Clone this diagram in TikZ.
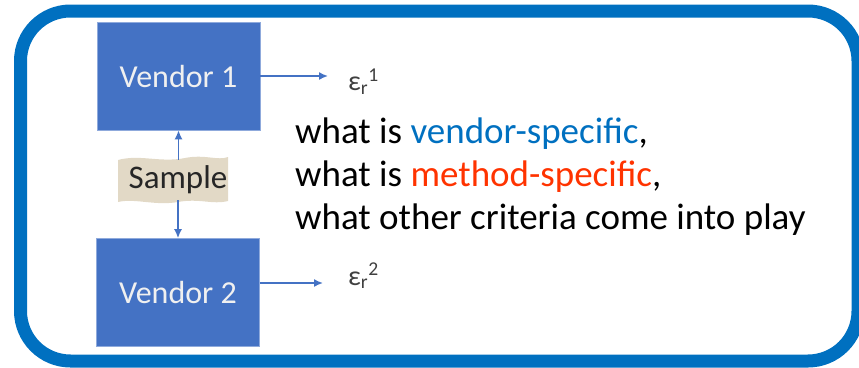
\documentclass[tikz,border=0pt]{standalone}
\usepackage{fontspec}
\setmainfont{Carlito}
\usetikzlibrary{arrows.meta}
\begin{document}
\begin{tikzpicture}[x=1pt,y=-1pt,
  vbox/.style={fill=vblue,draw=vblue!60!white,line width=0.6pt,minimum width=163pt,minimum height=108pt,text=white!94!black,font=\fontsize{32}{36}\selectfont,inner sep=0pt},
  conn/.style={draw=vblue,line width=1.6pt,-{Latex[length=9pt,width=8pt]}},
  eps/.style={text=black!75,font=\fontsize{28}{30}\selectfont,inner sep=0pt,anchor=west},
  body/.style={font=\fontsize{37}{43}\selectfont,anchor=base west,inner sep=0pt}
]
\definecolor{vblue}{HTML}{4472C4}
\definecolor{frame}{HTML}{0070C0}
\definecolor{mred}{HTML}{FF3300}
\definecolor{sampfill}{HTML}{E2D9C6}
\useasboundingbox (0,0) rectangle (859,367);
\draw[frame,line width=13pt,rounded corners=50pt] (20.5,11) rectangle (858,361);
\node[vbox] (v1) at (178.5,76) {Vendor 1};
\node[vbox] (v2) at (178,292.5) {Vendor 2};
\fill[sampfill] (118,160) .. controls (140,154) and (160,163) .. (185,158) .. controls (205,154) and (218,161) .. (228,157)
  -- (228,201) .. controls (212,205) and (200,198) .. (178,202) .. controls (155,206) and (135,198) .. (118,202) -- cycle;
\node[inner sep=0pt,text=black!85,font=\fontsize{33}{36}\selectfont,minimum width=110pt,minimum height=40pt] (s) at (178,180) {Sample};
\draw[conn] (s.north -| v1.south) -- (v1.south);
\draw[conn] (s.south -| v2.north) -- (v2.north);
\coordinate (e1) at (328,76);
\coordinate (e2) at (323,283);
\draw[conn] (v1.east |- e1) -- (e1);
\draw[conn] (v2.east |- e2) -- (e2);
\node[eps] (ep1) at (348,82) {ε\textsubscript{r}\textsuperscript{1}};
\node[eps] (ep2) at (348,276) {ε\textsubscript{r}\textsuperscript{2}};
\node[body] (t1) at (295,143) {what is \textcolor{frame}{vendor-specific},};
\node[body] (t2) at (295,186) {what is \textcolor{mred}{method-specific},};
\node[body] (t3) at (295,229) {what other criteria come into play};
\end{tikzpicture}
\end{document}
